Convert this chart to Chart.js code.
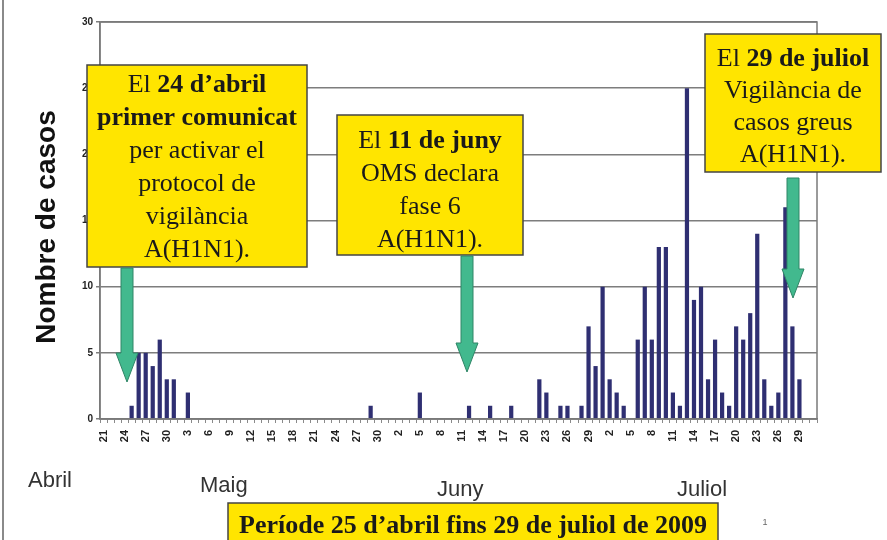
<!DOCTYPE html>
<html>
<head>
<meta charset="utf-8">
<script src="https://cdn.jsdelivr.net/npm/chart.js@4.4.0/dist/chart.umd.min.js"></script>
<style>
  html, body { margin: 0; padding: 0; background: #fff; }
</style>
</head>
<body>
<canvas id="casosChart" width="887" height="540"></canvas>
<script>
// Casos diaris A(H1N1), un valor per dia (eix X: 21 d'abril - 31 de juliol de 2009)
const casosAbril = [0, 0, 0, 0, 1, 5, 5, 4, 6, 3];            // 21-30 abril
const casosMaig = [3, 0, 2,
  0, 0, 0, 0, 0, 0, 0, 0, 0, 0, 0, 0, 0, 0, 0, 0, 0, 0, 0, 0, 0, 0, 0, 0, 0,
  1, 0, 0];                                                       // 1-31 maig
const casosJuny = [0, 0, 0, 0, 2, 0, 0, 0, 0, 0, 0, 1, 0, 0, 1,
  0, 0, 1, 0, 0, 0, 3, 2, 0, 1, 1, 0, 1, 7, 4];                   // 1-30 juny
const casosJuliol = [10, 3, 2, 1, 0, 6, 10, 6, 13, 13, 2, 1, 25, 9, 10,
  3, 6, 2, 1, 7, 6, 8, 14, 3, 1, 2, 16, 7, 3, 0, 0];              // 1-31 juliol

const primerDia = new Date(2009, 3, 21);
const pasEtiquetes = 3;           // una etiqueta cada 3 dies
const nomsMesos = ['Abril', 'Maig', 'Juny', 'Juliol'];
const yTicks = [0, 5, 10, 15, 20, 25, 30];

const casos = [...casosAbril, ...casosMaig, ...casosJuny, ...casosJuliol];
const dies = casos.map((_, i) => {
  const d = new Date(primerDia);
  d.setDate(d.getDate() + i);
  return String(d.getDate());
});

const SERIF = '"Liberation Serif", "Times New Roman", serif';
const SANS = '"Liberation Sans", Arial, sans-serif';
const GROC = '#ffe500';

// línies de cada requadre: [text, negreta]
const requadre1 = [
  [['El ', false], ['24 d’abril', true]],
  [['primer comunicat', true]],
  [['per activar el', false]],
  [['protocol de', false]],
  [['vigilància', false]],
  [['A(H1N1).', false]]
];
const requadre2 = [
  [['El ', false], ['11 de juny', true]],
  [['OMS declara', false]],
  [['fase 6', false]],
  [['A(H1N1).', false]]
];
const requadre3 = [
  [['El ', false], ['29 de juliol', true]],
  [['Vigilància de', false]],
  [['casos greus', false]],
  [['A(H1N1).', false]]
];
const titolPeriode = 'Període 25 d’abril fins 29 de juliol de 2009';

function liniaMixta(ctx, segs, cx, y, size) {
  let total = 0;
  segs.forEach(([t, b]) => {
    ctx.font = (b ? 'bold ' : '') + size + 'px ' + SERIF;
    total += ctx.measureText(t).width;
  });
  let x = cx - total / 2;
  segs.forEach(([t, b]) => {
    ctx.font = (b ? 'bold ' : '') + size + 'px ' + SERIF;
    ctx.fillText(t, x, y);
    x += ctx.measureText(t).width;
  });
}

function caixa(ctx, x, y, w, h, linies, y0, pas) {
  ctx.fillStyle = GROC;
  ctx.fillRect(x, y, w, h);
  ctx.strokeStyle = '#444';
  ctx.lineWidth = 1.5;
  ctx.strokeRect(x, y, w, h);
  ctx.fillStyle = '#1a1a1a';
  ctx.textAlign = 'left';
  ctx.textBaseline = 'alphabetic';
  linies.forEach((segs, i) => liniaMixta(ctx, segs, x + w / 2, y0 + i * pas, 26));
}

function fletxa(ctx, x, y0, y1) {
  const sw = 6, hw = 11, hh = 29;
  ctx.beginPath();
  ctx.moveTo(x - sw, y0);
  ctx.lineTo(x + sw, y0);
  ctx.lineTo(x + sw, y1 - hh);
  ctx.lineTo(x + hw, y1 - hh);
  ctx.lineTo(x, y1);
  ctx.lineTo(x - hw, y1 - hh);
  ctx.lineTo(x - sw, y1 - hh);
  ctx.closePath();
  ctx.fillStyle = '#42b98e';
  ctx.fill();
  ctx.strokeStyle = '#2f8566';
  ctx.lineWidth = 1;
  ctx.stroke();
}

const anotacions = {
  id: 'anotacions',
  afterDraw(chart) {
    const ctx = chart.ctx;
    const a = chart.chartArea;
    ctx.save();

    // marc de l'àrea de dibuix
    ctx.strokeStyle = '#7a7a7a';
    ctx.lineWidth = 1.5;
    ctx.strokeRect(a.left, a.top, a.right - a.left, a.bottom - a.top);

    // vora esquerra de la diapositiva
    ctx.strokeStyle = '#8a8a8a';
    ctx.lineWidth = 2;
    ctx.beginPath();
    ctx.moveTo(3, 0);
    ctx.lineTo(3, 540);
    ctx.stroke();

    // títol de l'eix Y
    ctx.save();
    ctx.translate(47, 227);
    ctx.rotate(-Math.PI / 2);
    ctx.fillStyle = '#111';
    ctx.font = 'bold 28px ' + SANS;
    ctx.textAlign = 'center';
    ctx.textBaseline = 'middle';
    ctx.fillText('Nombre de casos', 0, 0);
    ctx.restore();

    // noms dels mesos
    ctx.fillStyle = '#333';
    ctx.font = '22px ' + SANS;
    ctx.textAlign = 'left';
    ctx.fillText(nomsMesos[0], 28, 487);
    ctx.fillText(nomsMesos[1], 200, 492);
    ctx.fillText(nomsMesos[2], 437, 496);
    ctx.fillText(nomsMesos[3], 677, 496);

    // requadres i fletxes
    caixa(ctx, 87, 65, 220, 202, requadre1, 92, 33);
    fletxa(ctx, 127, 268, 382);
    caixa(ctx, 337, 115, 186, 140, requadre2, 148, 33);
    fletxa(ctx, 467, 256, 372);
    caixa(ctx, 705, 34, 176, 138, requadre3, 66, 32);
    fletxa(ctx, 793, 178, 298);

    // període
    ctx.fillStyle = GROC;
    ctx.fillRect(228, 503, 490, 40);
    ctx.strokeStyle = '#444';
    ctx.lineWidth = 1.5;
    ctx.strokeRect(228, 503, 490, 40);
    ctx.fillStyle = '#1a1a1a';
    ctx.font = 'bold 26px ' + SERIF;
    ctx.textAlign = 'center';
    ctx.fillText(titolPeriode, 473, 533);

    ctx.fillStyle = '#666';
    ctx.font = '9px ' + SANS;
    ctx.fillText('1', 765, 525);
    ctx.restore();
  }
};

new Chart(document.getElementById('casosChart'), {
  type: 'bar',
  data: {
    labels: dies,
    datasets: [{
      label: 'Casos',
      data: casos,
      backgroundColor: '#2f2f72',
      borderWidth: 0,
      barPercentage: 0.6,
      categoryPercentage: 1
    }]
  },
  options: {
    responsive: false,
    animation: false,
    layout: { padding: { top: 22, right: 70, left: 0, bottom: 0 } },
    plugins: {
      legend: { display: false },
      tooltip: { enabled: false }
    },
    scales: {
      x: {
        offset: true,
        grid: { display: true, drawOnChartArea: false, drawTicks: true, tickLength: 4, color: '#8a8a8a' },
        border: { display: true, color: '#7a7a7a', width: 1.5 },
        ticks: {
          autoSkip: false,
          maxRotation: 90,
          minRotation: 90,
          padding: 7,
          color: '#222',
          font: { family: SANS, size: 11, weight: 'bold' },
          callback: (v, i) => (i % pasEtiquetes === 0 ? dies[i] : '')
        },
        afterFit(scale) { scale.height = 121; }
      },
      y: {
        min: yTicks[0],
        max: yTicks[yTicks.length - 1],
        ticks: {
          stepSize: yTicks[1] - yTicks[0],
          padding: 3,
          color: '#222',
          font: { family: SANS, size: 10, weight: 'bold' }
        },
        grid: { color: '#7d7d7d', lineWidth: 1.5, tickLength: 4 },
        border: { color: '#7a7a7a', width: 1.5 },
        afterFit(scale) { scale.width = 100; }
      }
    }
  },
  plugins: [anotacions]
});
</script>
</body>
</html>
